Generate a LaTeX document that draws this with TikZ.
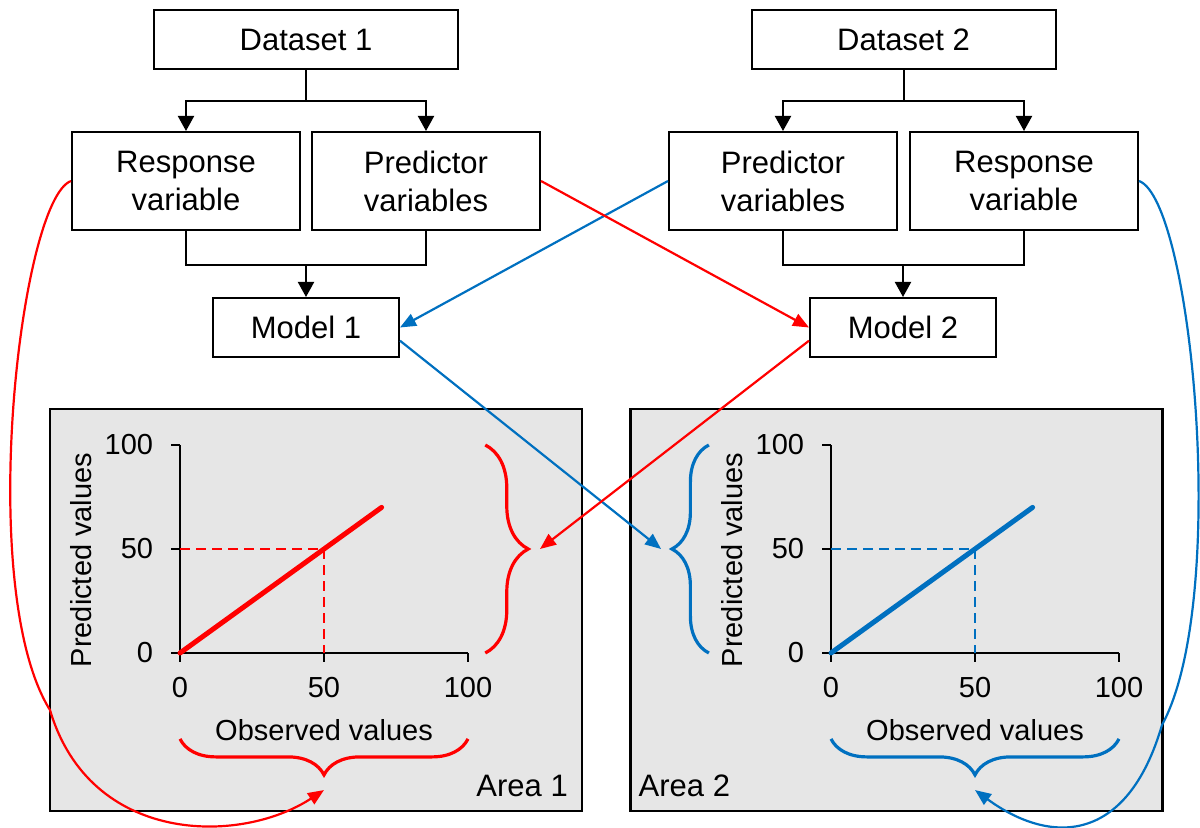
\documentclass[tikz,border=0pt]{standalone}
\usepackage{fontspec}
\setmainfont{Liberation Sans}
\usetikzlibrary{calc,arrows.meta,decorations.pathreplacing}
\definecolor{myred}{HTML}{FF0000}
\definecolor{myblue}{HTML}{0070C0}
\definecolor{panelgray}{HTML}{E6E6E6}

\begin{document}
\begin{tikzpicture}[x=0.5pt,y=-0.5pt,
    every node/.style={font=\fontsize{15.5}{19}\selectfont},
    box/.style={draw,line width=1pt,align=center,inner sep=0pt},
    dsbox/.style={box,minimum width=152pt,minimum height=29.5pt},
    varbox/.style={box,minimum width=114pt,minimum height=49pt},
    modbox/.style={box,minimum width=93pt,minimum height=29.5pt},
    panel/.style={draw,line width=1.2pt,fill=panelgray,minimum width=266pt,minimum height=201pt,inner sep=0pt},
    link/.style={line width=1pt,-{Triangle[length=7.5pt,width=8pt]}},
    flow/.style={line width=1.1pt,-{Triangle[length=8pt,width=6.5pt]}},
    lab/.style={font=\fontsize{14.5}{17}\selectfont,inner sep=0pt},
    axis/.style={line width=0.75pt},
    guide/.style={line width=0.8pt,dash pattern=on 5pt off 3pt},
    fit line/.style={line width=2.5pt,line cap=round},
    brc/.style={decorate,decoration={brace,amplitude=#1},line width=1.6pt},
  ]
  \useasboundingbox (0,0) rectangle (1200,828);

  % the two areas
  \node[panel] (area1) at (316,610) {};
  \node[panel] (area2) at (896.5,610) {};
  \node[anchor=base east,inner sep=0pt] (alab1) at ($(area1.south east)+(-15,-16)$) {Area 1};
  \node[anchor=base west,inner sep=0pt] (alab2) at ($(area2.south west)+(9,-16)$) {Area 2};

  % plot in area 1
  \begin{scope}[shift={(180,653)},x=1.44pt,y=1.04pt]
    \draw[axis] (0,100) -- (0,0) -- (100,0);
    \foreach \v in {0,50,100} {
      \draw[axis] (0,\v) -- ++(-4.5pt,0);
      \draw[axis] (\v,0) -- ++(0,-4.5pt);
      \node[lab,anchor=east] (ya\v) at (-9.2,\v) {\v};
      \node[lab] (xa\v) at (\v,-16.8) {\v};
    }
    \node[lab,rotate=90] (ylab1) at (-34.2,44.7) {Predicted values};
    \node[lab] (xlab1) at (50,-37) {Observed values};
    \draw[guide,myred] (0,50) -| (50,0);
    \draw[fit line,myred] (0,0) -- (70,70);
    \draw[brc=21.5pt,myred] (106,100) -- (106,0);
    \draw[brc=18pt,myred] (100,-41.3) -- (0,-41.3);
    \coordinate (rtip) at (125,50);
    \coordinate (rbot) at (50,-65.9);
  \end{scope}

  % plot in area 2
  \begin{scope}[shift={(831,653)},x=1.44pt,y=1.04pt]
    \draw[axis] (0,100) -- (0,0) -- (100,0);
    \foreach \v in {0,50,100} {
      \draw[axis] (0,\v) -- ++(-4.5pt,0);
      \draw[axis] (\v,0) -- ++(0,-4.5pt);
      \node[lab,anchor=east] (yb\v) at (-9.2,\v) {\v};
      \node[lab] (xb\v) at (\v,-16.8) {\v};
    }
    \node[lab,rotate=90] (ylab2) at (-34.2,44.7) {Predicted values};
    \node[lab] (xlab2) at (50,-37) {Observed values};
    \draw[guide,myblue] (0,50) -| (50,0);
    \draw[fit line,myblue] (0,0) -- (70,70);
    \draw[brc=18.5pt,myblue] (-42.4,0) -- (-42.4,100);
    \draw[brc=18pt,myblue] (100,-41.3) -- (0,-41.3);
    \coordinate (btip) at (-59,50);
    \coordinate (bbot) at (50,-65.9);
  \end{scope}

  % boxes
  \node[dsbox] (ds1) at (306,39.5) {Dataset 1};
  \node[dsbox] (ds2) at (903.5,39.5) {Dataset 2};
  \node[varbox] (resp1) at (186,181) {Response\\variable};
  \node[varbox] (pred1) at (426,181) {Predictor\\variables};
  \node[varbox] (pred2) at (783,181) {Predictor\\variables};
  \node[varbox] (resp2) at (1024,181) {Response\\variable};
  \node[modbox] (mod1) at (306,327.5) {Model 1};
  \node[modbox] (mod2) at (903,327.5) {Model 2};

  % black flow
  \draw[link] (ds1.south) -- ++(0,31) -| (resp1.north);
  \draw[link] (ds1.south) ++(0,31) -| (pred1.north);
  \draw[link] (ds2.south) -- ++(0,31) -| (pred2.north);
  \draw[link] (ds2.south) ++(0,31) -| (resp2.north);
  \draw[line width=1pt] (resp1.south) -- ++(0,34) -| (pred1.south);
  \draw[link] (resp1.south) ++(0,34) -| (mod1.north);
  \draw[line width=1pt] (pred2.south) -- ++(0,34) -| (resp2.south);
  \draw[link] (pred2.south) ++(0,34) -| (mod2.north);

  % cross links
  \draw[flow,myblue] (pred2.west) -- (mod1.east);
  \draw[flow,myred] (pred1.east) -- (mod2.west);
  \draw[flow,myblue] (mod1.-8) -- (btip);
  \draw[flow,myred] (mod2.188) -- (rtip);
  \draw[flow,myred] (resp1.west) .. controls (20,200) and (-25,590) .. (50,710)
    .. controls (90,845) and (240,845) .. (rbot);
  \draw[flow,myblue] (resp2.east) .. controls (1192,200) and (1230,600) .. (1162,725)
    .. controls (1127,845) and (1050,845) .. (bbot);
\end{tikzpicture}
\end{document}
